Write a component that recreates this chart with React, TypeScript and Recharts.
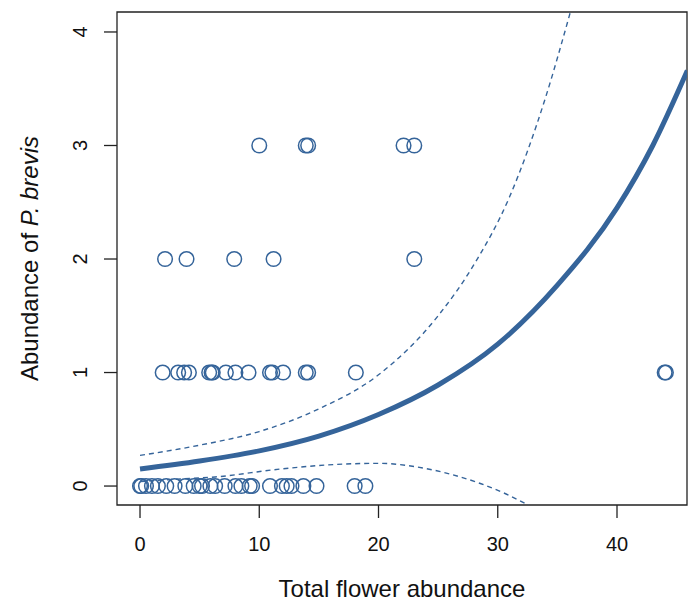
import {
  ComposedChart,
  Line,
  Scatter,
  XAxis,
  YAxis,
  ReferenceArea,
} from 'recharts';

interface Pt {
  x: number;
  y: number;
}

const BLUE = '#35649a';
const AXIS = '#222222';
const FONT = 'Liberation Sans, Arial, Helvetica, sans-serif';
const Y_LABEL_X = 80;

// observed counts, grouped by abundance of P. brevis
const FLOWERS_AT_0 = [
  0, 0.1, 0.5, 1.0, 1.5, 2.2, 2.9, 3.8, 4.5, 5.0, 5.2, 5.9, 6.3, 7.1, 8.0, 8.5, 9.2, 9.4,
  10.9, 11.9, 12.3, 12.7, 13.7, 14.8, 18.0, 18.9,
];
const FLOWERS_AT_1 = [
  1.9, 3.2, 3.7, 4.1, 5.8, 6.0, 6.1, 7.2, 8.0, 9.1, 10.9, 11.1, 12.0, 13.9, 14.1, 18.1, 44.0, 44.1,
];
const FLOWERS_AT_2 = [2.1, 3.9, 7.9, 11.2, 23.0];
const FLOWERS_AT_3 = [10.0, 13.9, 14.1, 22.1, 23.0];

// fitted curve and its confidence band
const FIT_X = [0, 5, 10, 15, 20, 25, 30, 35, 40, 43, 45.9];
const FIT_Y = [0.15, 0.22, 0.31, 0.44, 0.63, 0.89, 1.25, 1.77, 2.45, 3.0, 3.66];

const UPPER_X = [0, 5, 10, 15, 20, 25, 28, 31, 34, 36.1];
const UPPER_Y = [0.27, 0.36, 0.48, 0.68, 0.98, 1.5, 1.95, 2.55, 3.42, 4.18];

const LOWER_X = [0, 3, 6.3, 11.8, 16.4, 20.1, 23.1, 26.2, 28.6, 30.7, 32.6];
const LOWER_Y = [0.04, 0.06, 0.08, 0.15, 0.19, 0.2, 0.17, 0.1, 0.02, -0.07, -0.17];

const X_TICKS = [0, 10, 20, 30, 40];
const Y_TICKS = [0, 1, 2, 3, 4];
const X_DOMAIN: [number, number] = [-1.93, 45.87];
const Y_DOMAIN: [number, number] = [-0.167, 4.176];

const zip = (xs: number[], ys: number[]): Pt[] => xs.map((x, i) => ({ x, y: ys[i] }));
const row = (xs: number[], y: number): Pt[] => xs.map((x) => ({ x, y }));

const points: Pt[] = [
  ...row(FLOWERS_AT_0, 0),
  ...row(FLOWERS_AT_1, 1),
  ...row(FLOWERS_AT_2, 2),
  ...row(FLOWERS_AT_3, 3),
];
const fit = zip(FIT_X, FIT_Y);
const upper = zip(UPPER_X, UPPER_Y);
const lower = zip(LOWER_X, LOWER_Y);

function OpenCircle(props: any) {
  const { cx, cy } = props;
  if (cx == null || cy == null) return null;
  return <circle cx={cx} cy={cy} r={7.3} fill="none" stroke={BLUE} strokeWidth={1.5} />;
}

function XTick(props: any) {
  const { x, y, payload } = props;
  return (
    <text x={x} y={y + 31} textAnchor="middle" fontSize={20} fill="#111" fontFamily={FONT}>
      {payload.value}
    </text>
  );
}

function YTick(props: any) {
  const { y, payload } = props;
  const cx = Y_LABEL_X;
  return (
    <text
      x={cx}
      y={y}
      transform={`rotate(-90, ${cx}, ${y})`}
      textAnchor="middle"
      dominantBaseline="central"
      fontSize={20}
      fill="#111"
      fontFamily={FONT}
    >
      {payload.value}
    </text>
  );
}

function XTitle(props: any) {
  const { viewBox } = props;
  const cx = viewBox.x + viewBox.width / 2;
  return (
    <text x={cx} y={597} textAnchor="middle" fontSize={24} fill="#111" fontFamily={FONT}>
      Total flower abundance
    </text>
  );
}

function YTitle(props: any) {
  const { viewBox } = props;
  const cy = viewBox.y + viewBox.height / 2;
  const cx = 38;
  return (
    <text
      x={cx}
      y={cy}
      transform={`rotate(-90, ${cx}, ${cy})`}
      textAnchor="middle"
      fontSize={24}
      fill="#111"
      fontFamily={FONT}
    >
      Abundance of <tspan fontStyle="italic">P. brevis</tspan>
    </text>
  );
}

export default function App() {
  return (
    <div style={{ position: 'absolute', left: 0, top: 0, background: '#fff' }}>
      <ComposedChart width={688} height={605} margin={{ top: 12, right: 1, bottom: 0, left: 0 }}>
        <XAxis
          dataKey="x"
          type="number"
          domain={X_DOMAIN}
          ticks={X_TICKS}
          allowDataOverflow
          height={100}
          tickSize={13}
          axisLine={false}
          tickLine={{ stroke: AXIS, strokeWidth: 1.3 }}
          tick={<XTick />}
          label={<XTitle />}
        />
        <YAxis
          dataKey="y"
          type="number"
          domain={Y_DOMAIN}
          ticks={Y_TICKS}
          allowDataOverflow
          width={117}
          tickSize={13}
          axisLine={false}
          tickLine={{ stroke: AXIS, strokeWidth: 1.3 }}
          tick={<YTick />}
          label={<YTitle />}
        />
        <Scatter data={points} dataKey="y" shape={<OpenCircle />} isAnimationActive={false} />
        <Line
          data={upper}
          dataKey="y"
          type="monotone"
          stroke={BLUE}
          strokeWidth={1.4}
          strokeDasharray="5 4"
          dot={false}
          activeDot={false}
          isAnimationActive={false}
        />
        <Line
          data={lower}
          dataKey="y"
          type="monotone"
          stroke={BLUE}
          strokeWidth={1.4}
          strokeDasharray="5 4"
          dot={false}
          activeDot={false}
          isAnimationActive={false}
        />
        <Line
          data={fit}
          dataKey="y"
          type="monotone"
          stroke={BLUE}
          strokeWidth={5}
          dot={false}
          activeDot={false}
          isAnimationActive={false}
        />
        <ReferenceArea
          x1={X_DOMAIN[0]}
          x2={X_DOMAIN[1]}
          y1={Y_DOMAIN[0]}
          y2={Y_DOMAIN[1]}
          fill="none"
          stroke={AXIS}
          strokeWidth={1.3}
          ifOverflow="visible"
        />
      </ComposedChart>
    </div>
  );
}
